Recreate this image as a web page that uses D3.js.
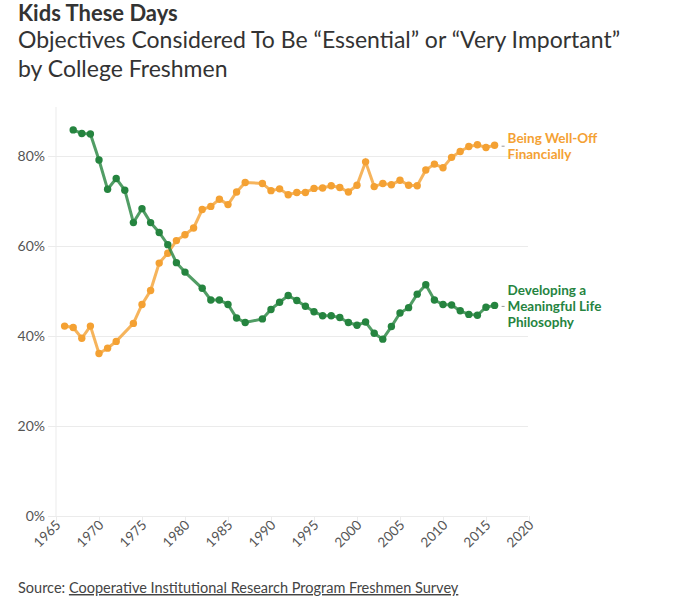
<!DOCTYPE html>
<html>
<head>
<meta charset="utf-8">
<script src="https://cdn.jsdelivr.net/npm/d3@7"></script>
<style>
  body { margin: 0; background: #fff; }
  svg text { font-family: "Source Sans Pro", Lato, "Noto Sans", sans-serif; }
</style>
</head>
<body>
<svg id="chart" width="680" height="607"></svg>
<script>
// years surveyed (gaps where a question was not asked)
const years = d3.range(1966, 2017);

// % of freshmen rating each objective "essential" or "very important"
const wellOff = [
  42.2, 41.9, 39.5, 42.2, 36.1, 37.3, 38.8, null, 42.8, 47.0,
  50.1, 56.2, 58.4, 61.2, 62.5, 64.0, 68.1, 68.8, 70.4, 69.2,
  72.0, 74.1, null, 73.9, 72.3, 72.7, 71.4, 71.9, 71.9, 72.8,
  72.9, 73.4, 73.0, 72.0, 73.5, 78.7, 73.2, 73.9, 73.6, 74.6,
  73.5, 73.4, 76.9, 78.2, 77.4, 79.7, 81.0, 82.1, 82.5, 81.9,
  82.4
];
const philosophy = [
  null, 85.8, 85.0, 84.9, 79.1, 72.6, 75.0, 72.4, 65.2, 68.3,
  65.2, 63.0, 60.3, 56.3, 54.2, null, 50.6, 48.0, 48.0, 47.0,
  44.0, 43.0, null, 43.8, 45.9, 47.5, 49.0, 47.9, 46.6, 45.4,
  44.5, 44.5, 44.1, 43.0, 42.4, 43.1, 40.6, 39.3, 42.1, 45.1,
  46.3, 49.3, 51.4, 48.0, 47.0, 46.9, 45.6, 44.8, 44.6, 46.4,
  46.8
];

const xTicks = d3.range(1965, 2021, 5);
const yTicks = [0, 20, 40, 60, 80];

const series = [
  { name: ["Being Well-Off", "Financially"], values: wellOff, color: "#f4a133" },
  { name: ["Developing a", "Meaningful Life", "Philosophy"], values: philosophy, color: "#25843f" }
];

const svg = d3.select("#chart");

const x = d3.scaleLinear().domain([1965, 2020]).range([56, 529]);
const y = d3.scaleLinear().domain([0, 90]).range([516, 111]);

// titles
svg.append("text").attr("x", 18).attr("y", 21)
  .attr("font-size", 22).attr("font-weight", 700).attr("fill", "#333")
  .text("Kids These Days");
svg.append("text").attr("x", 18).attr("y", 48)
  .attr("font-size", 23).attr("fill", "#333")
  .text("Objectives Considered To Be “Essential” or “Very Important”");
svg.append("text").attr("x", 18).attr("y", 77)
  .attr("font-size", 23).attr("fill", "#333")
  .text("by College Freshmen");

// gridlines + y labels
const yAxis = svg.append("g").attr("transform", "translate(56,0)")
  .call(d3.axisLeft(y).tickValues(yTicks).tickSize(8).tickFormat(d => d + "%"))
  .call(g => g.select(".domain").remove());
yAxis.selectAll(".tick line").clone()
  .attr("x2", 472);
yAxis.selectAll(".tick line").attr("stroke", "#ebebeb");
yAxis.selectAll(".tick text").attr("font-size", 14).attr("fill", "#555").attr("x", -11);

// vertical axis line
svg.append("line")
  .attr("x1", 56).attr("x2", 56).attr("y1", y(90) - 4).attr("y2", 516)
  .attr("stroke", "#ebebeb");

// x axis
const xAxis = svg.append("g").attr("transform", "translate(0,516)")
  .call(d3.axisBottom(x).tickValues(xTicks).tickSize(6).tickFormat(d3.format("d")));
xAxis.select(".domain").remove();
xAxis.selectAll(".tick line").attr("stroke", "#ebebeb");
xAxis.selectAll(".tick text")
  .attr("font-size", 13.5).attr("fill", "#555")
  .attr("text-anchor", "end")
  .attr("dy", null).attr("y", 0)
  .attr("transform", "translate(5,10) rotate(-45)");

// lines and points
const line = d3.line().x(d => x(d.year)).y(d => y(d.value));

series.forEach(s => {
  const pts = years.map((yr, i) => ({ year: yr, value: s.values[i] }))
    .filter(d => d.value !== null);

  svg.append("path").datum(pts)
    .attr("d", line)
    .attr("fill", "none")
    .attr("stroke", s.color)
    .attr("stroke-opacity", 0.8)
    .attr("stroke-width", 3);

  svg.append("g").selectAll("circle").data(pts).join("circle")
    .attr("cx", d => x(d.year)).attr("cy", d => y(d.value))
    .attr("r", 3.7).attr("fill", s.color);

  // end label, one text per line
  const last = pts[pts.length - 1];
  const lx = x(last.year), ly = y(last.value);
  svg.append("line")
    .attr("x1", lx + 7).attr("x2", lx + 10).attr("y1", ly + 1).attr("y2", ly + 1)
    .attr("stroke", "#999").attr("stroke-width", 1);
  const lh = 16.3;
  s.name.forEach((n, i) => {
    svg.append("text").attr("x", lx + 13)
      .attr("y", ly - (s.name.length - 1) * lh / 2 + 5.5 + i * lh)
      .attr("font-size", 13.5).attr("font-weight", 700).attr("fill", s.color)
      .text(n);
  });
});

// source
const src = svg.append("text").attr("x", 18).attr("y", 593)
  .attr("font-size", 14.5).attr("fill", "#444");
src.append("tspan").text("Source: ");
src.append("tspan").attr("text-decoration", "underline")
  .text("Cooperative Institutional Research Program Freshmen Survey");
</script>
</body>
</html>
